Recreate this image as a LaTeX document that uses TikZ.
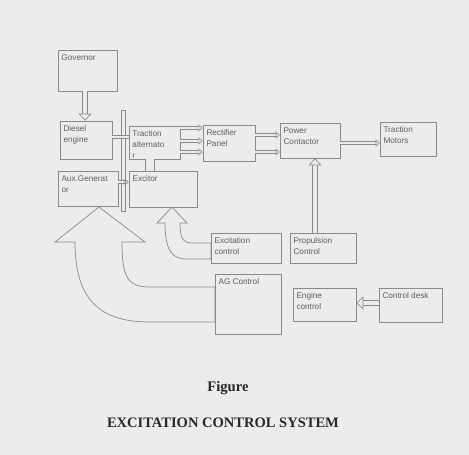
\documentclass[tikz,border=0pt]{standalone}
\usepackage{fontspec}
\setmainfont{Liberation Serif}
\setsansfont{Liberation Sans}
\usetikzlibrary{arrows.meta}

\definecolor{paper}{RGB}{237,235,236}
\definecolor{boxline}{RGB}{138,138,138}
\definecolor{boxtext}{RGB}{95,95,95}
\definecolor{captext}{RGB}{40,40,40}

\tikzset{
  blk/.style={draw=boxline, line width=0.6pt, inner sep=0pt, fill=paper},
  blktext/.style={font=\sffamily\fontsize{7}{9.5}\selectfont, text=boxtext, align=left, anchor=north west, inner xsep=3pt, inner ysep=4pt},
  hollow/.style={line width=0.55pt, draw=boxline, double=paper, double distance=3.2pt, -{Triangle[open, length=6pt, width=11pt]}},
  thin hollow/.style={line width=0.5pt, draw=boxline, double=paper, double distance=1.6pt, -{Triangle[open, length=3.5pt, width=6pt]}},
  coupling/.style={line width=0.5pt, draw=boxline, double=paper, double distance=2pt},
  bigarrow/.style={draw=boxline, line width=0.6pt, fill=paper, line join=miter},
}

\begin{document}
\begin{tikzpicture}[x=0.03cm, y=-0.03cm]

\fill[paper] (0,0) rectangle (469,455);
\useasboundingbox (0,0) rectangle (469,455);

% big curved arrows
\draw[bigarrow] (99,207) -- (145,242) -- (122,242) .. controls (122,278) and (128,287) .. (150,287) -- (215,287)
  -- (215,322) -- (150,322) .. controls (100,322) and (75,300) .. (75,242) -- (55,242) -- cycle;
\draw[bigarrow] (172,207) -- (187,223) -- (180,223) .. controls (180,238) and (183,243) .. (192,243) -- (211,243)
  -- (211,259) -- (186,259) .. controls (172,259) and (165,250) .. (165,223) -- (157,223) -- cycle;

% shaft
\node[blk, minimum width=3.4pt, minimum height=86.7pt] (shaft) at (123,161) {};

\node[blk, minimum width=50.2pt, minimum height=34.9pt, label={[blktext]north west:Governor}] (gov) at (87.5,70.5) {};
\node[blk, minimum width=44.2pt, minimum height=32.3pt, label={[blktext]north west:Diesel\\engine}] (diesel) at (86,140) {};
\node[blk, minimum width=43.4pt, minimum height=28.1pt, label={[blktext]north west:Traction\\alternato\\r}] (alt) at (154.5,142.5) {};
\node[blk, minimum width=44.2pt, minimum height=30.6pt, label={[blktext]north west:Rectifier\\Panel}] (rect) at (229,143) {};
\node[blk, minimum width=51pt, minimum height=29.8pt, label={[blktext]north west:Power\\Contactor}] (pc) at (310,140.5) {};
\node[blk, minimum width=47.6pt, minimum height=28.9pt, label={[blktext]north west:Traction\\Motors}] (tm) at (408,139) {};
\node[blk, minimum width=51pt, minimum height=29.8pt, label={[blktext]north west:Aux.Generat\\or}] (aux) at (88,188.5) {};
\node[blk, minimum width=57.8pt, minimum height=30.6pt, label={[blktext]north west:Excitor}] (exc) at (163,189) {};
\node[blk, minimum width=59.5pt, minimum height=25.5pt, label={[blktext]north west:Excitation\\control}] (excctl) at (246,248) {};
\node[blk, minimum width=56.1pt, minimum height=25.5pt, label={[blktext]north west:Propulsion\\Control}] (prop) at (323,248) {};
\node[blk, minimum width=56.1pt, minimum height=51pt, label={[blktext]north west:AG Control}] (agc) at (248,304) {};
\node[blk, minimum width=53.6pt, minimum height=28.1pt, label={[blktext]north west:Engine\\control}] (engctl) at (324.5,304.5) {};
\node[blk, minimum width=53.6pt, minimum height=28.9pt, label={[blktext]north west:Control desk}] (desk) at (410.5,305) {};

\draw[hollow] (gov.south -| 85,0) -- (diesel.north -| 85,0);
\draw[coupling] (diesel.east |- 0,137) -- (alt.west |- 0,137);
\draw[thin hollow] (aux.east |- 0,182) -- (exc.west |- 0,182);
\draw[coupling, double distance=7pt] (exc.north -| 150,0) -- (alt.south -| 150,0);

\draw[thin hollow] (alt.east |- 0,128) -- (rect.west |- 0,128);
\draw[thin hollow] (alt.east |- 0,141) -- (rect.west |- 0,141);
\draw[thin hollow] (alt.east |- 0,152) -- (rect.west |- 0,152);

\draw[thin hollow] (rect.east |- 0,135) -- (pc.west |- 0,135);
\draw[thin hollow] (rect.east |- 0,152) -- (pc.west |- 0,152);
\draw[thin hollow] (pc.east |- 0,143) -- (tm.west |- 0,143);

\draw[hollow] (prop.north -| 315,0) -- (pc.south -| 315,0);
\draw[hollow] (desk.west |- 0,303) -- (engctl.east |- 0,303);

\node[font=\bfseries\fontsize{12.5}{14}\selectfont, text=captext] (fig) at (228,388) {Figure};
\node[font=\bfseries\fontsize{12.4}{14}\selectfont, text=captext] (title) at (223,423) {EXCITATION CONTROL SYSTEM};

\end{tikzpicture}
\end{document}
